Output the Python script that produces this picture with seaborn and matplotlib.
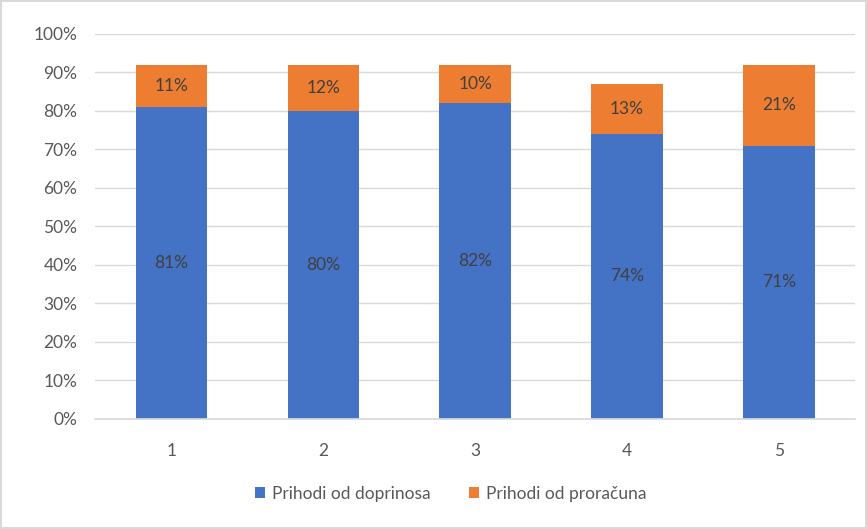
import numpy as np
import matplotlib
matplotlib.use("Agg")
import matplotlib.pyplot as plt
import seaborn as sns

# data
categories = ["1", "2", "3", "4", "5"]
doprinosi = [81, 80, 82, 74, 71]
proracun = [11, 12, 10, 13, 21]
series_names = ["Prihodi od doprinosa", "Prihodi od proračuna"]

sns.set_theme(style="white")
plt.rcParams["font.family"] = ["Lato", "DejaVu Sans"]

blue = "#4472C4"
orange = "#ED7D31"
grey = "#595959"
fs = 12.5

fig = plt.figure(figsize=(8.67, 5.29), dpi=100)
fig.patch.set_edgecolor("#D9D9D9")
fig.patch.set_linewidth(1.5)
ax = fig.add_axes([0.110, 0.208, 0.876, 0.728])

sns.barplot(x=categories, y=doprinosi, color=blue, width=0.47, linewidth=0,
            saturation=1, label=series_names[0], ax=ax)
sns.barplot(x=categories, y=proracun, bottom=doprinosi, color=orange, width=0.47,
            linewidth=0, saturation=1, label=series_names[1], ax=ax)

for cont in ax.containers:
    ax.bar_label(cont, fmt="%d%%", label_type="center", color="#404040", fontsize=fs)

ax.set_ylim(0, 100)
ax.set_xlim(-0.5, 4.5)
ax.set_yticks(np.arange(0, 101, 10))
ax.set_yticklabels([f"{v}%" for v in range(0, 101, 10)])
ax.yaxis.grid(True, color="#D9D9D9", linewidth=1)
ax.set_axisbelow(True)
for s in ["top", "right", "left"]:
    ax.spines[s].set_visible(False)
ax.spines["bottom"].set_color("#D9D9D9")
ax.tick_params(axis="both", colors=grey, labelsize=fs, length=0)
ax.tick_params(axis="x", pad=17)
ax.tick_params(axis="y", pad=13)
ax.set_xlabel("")
ax.set_ylabel("")

ax.legend(loc="center", bbox_to_anchor=(0.52, 0.066), bbox_transform=fig.transFigure,
          ncol=2, frameon=False, handlelength=0.6, handleheight=0.6,
          columnspacing=2.2, handletextpad=0.4, labelcolor=grey, fontsize=fs)

fig.savefig("out.png", dpi=100)
